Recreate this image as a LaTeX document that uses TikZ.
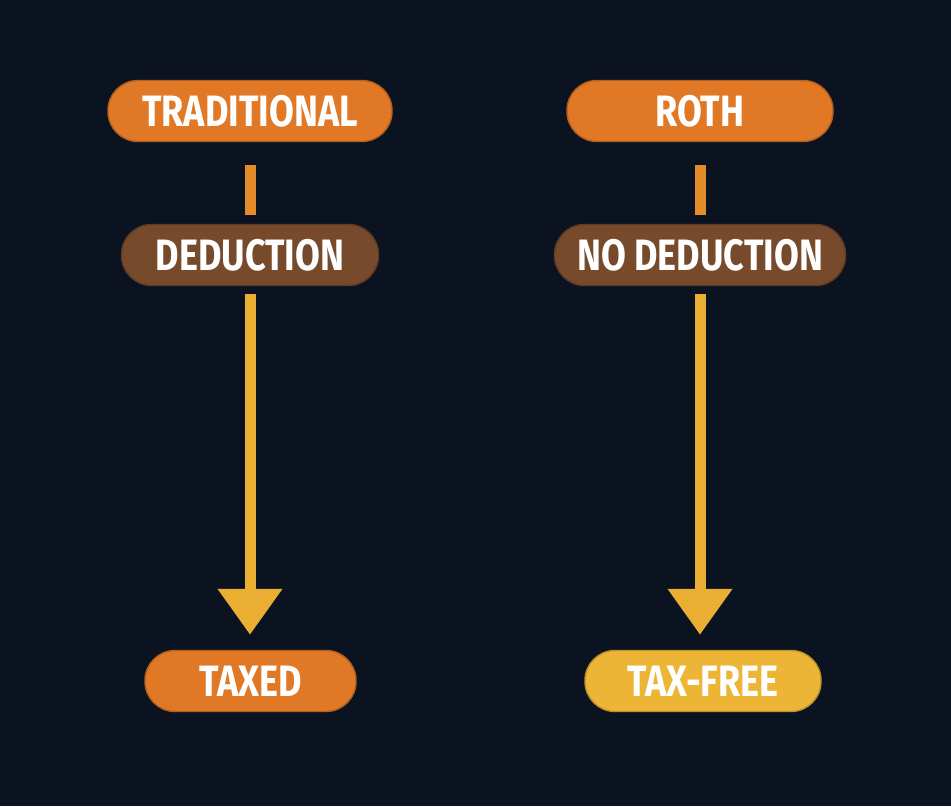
\documentclass[tikz,border=0pt]{standalone}
\usepackage{fontspec}
\setmainfont{Fira Sans}[FakeStretch=0.82]
\usetikzlibrary{arrows.meta}
\definecolor{bgdark}{HTML}{0B1320}
\definecolor{planorange}{HTML}{E07826}
\definecolor{planbrown}{HTML}{784A2C}
\definecolor{planyellow}{HTML}{ECB536}
\definecolor{linkorange}{HTML}{E48C2A}
\definecolor{flowyellow}{HTML}{E9AE32}

\begin{document}
\begin{tikzpicture}[x=1cm,y=1cm,
    every node/.style={font=\fontsize{12.5}{13}\selectfont\bfseries, text=white,
      rounded corners=0.3cm, minimum height=0.61cm, inner sep=0pt},
    plan/.style={fill=planorange, draw=planorange!80!black, line width=0.4pt},
    rule/.style={fill=planbrown, draw=planbrown!80!black, line width=0.4pt},
    result/.style={fill=#1, draw=#1!80!black, line width=0.4pt},
    link/.style={draw=linkorange, line width=0.11cm},
    flow/.style={draw=flowyellow, line width=0.11cm,
      -{Triangle[width=0.62cm,length=0.46cm]}}]
  \fill[bgdark] (0,0) rectangle (9.51,8.06);
  \useasboundingbox (0,0) rectangle (9.51,8.06);

  % left column
  \node[plan, minimum width=2.84cm] (trad) at (2.50,6.95) {TRADITIONAL};
  \node[rule, minimum width=2.57cm] (ded) at (2.50,5.51) {DEDUCTION};
  \node[result=planorange, minimum width=2.11cm] (taxed) at (2.505,1.25) {TAXED};

  % right column
  \node[plan, minimum width=2.66cm] (roth) at (7.00,6.95) {ROTH};
  \node[rule, minimum width=2.91cm] (noded) at (7.00,5.51) {NO DEDUCTION};
  \node[result=planyellow, minimum width=2.36cm] (free) at (7.03,1.25) {TAX-FREE};

  \draw[link, shorten <=0.23cm, shorten >=0.09cm] (trad) -- (ded);
  \draw[link, shorten <=0.23cm, shorten >=0.09cm] (roth) -- (noded);
  \draw[flow, shorten <=0.08cm, shorten >=0.15cm] (ded) -- (ded |- taxed.north);
  \draw[flow, shorten <=0.08cm, shorten >=0.15cm] (noded) -- (noded |- free.north);
\end{tikzpicture}
\end{document}
